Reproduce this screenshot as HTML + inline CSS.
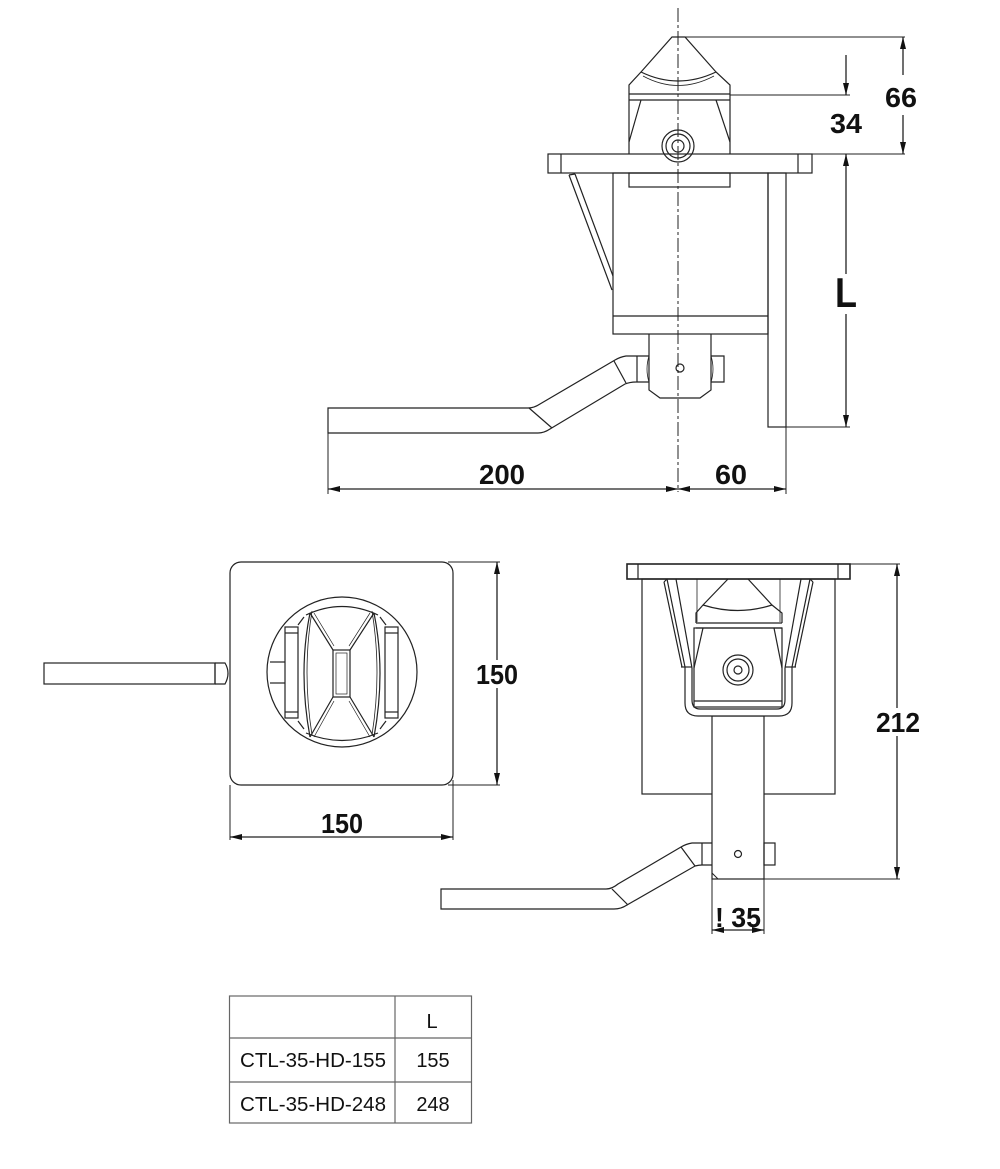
<!DOCTYPE html>
<html><head><meta charset="utf-8"><style>
html,body{margin:0;padding:0;background:#fff;}
svg{display:block;}
text{font-family:"Liberation Sans",sans-serif;fill:#111;}
</style></head><body>
<svg width="1000" height="1169" viewBox="0 0 1000 1169" xmlns="http://www.w3.org/2000/svg">
<defs>
<marker id="a" viewBox="0 0 12 6" refX="12" refY="3" markerWidth="12" markerHeight="6" orient="auto-start-reverse" markerUnits="userSpaceOnUse">
<path d="M0,0 L12,3 L0,6 z" fill="#111"/></marker>
</defs>
<g fill="none" stroke="#222" stroke-width="1.2">
<line x1="678" y1="8" x2="678" y2="492" stroke-dasharray="14,3,3,3" stroke-width="1"/>
<path d="M629,100 L629,85 L641,72 L672,37 L685,37 L716,72 L730,85 L730,100"/>
<path d="M641,72 Q678,90 716,72"/>
<path d="M643,76 Q678,95 714,76" stroke-width="0.8"/>
<line x1="629" y1="94" x2="730" y2="94"/>
<line x1="629" y1="100" x2="730" y2="100"/>
<line x1="629" y1="100" x2="629" y2="154"/>
<line x1="730" y1="100" x2="730" y2="154"/>
<line x1="641" y1="100" x2="629" y2="142"/>
<line x1="716" y1="100" x2="730" y2="142"/>
<circle cx="678" cy="146" r="16"/>
<circle cx="678" cy="146" r="12"/>
<circle cx="678" cy="146" r="6"/>
<rect x="548" y="154" width="264" height="19"/>
<line x1="561" y1="154" x2="561" y2="173"/>
<line x1="798" y1="154" x2="798" y2="173"/>
<rect x="629" y="173" width="101" height="14"/>
<rect x="613" y="173" width="155" height="161"/>
<line x1="613" y1="316" x2="768" y2="316"/>
<path d="M569,175 L612,290 M575,174 L613,276 M569,175 L575,174"/>
<rect x="768" y="173" width="18" height="254"/>
<path d="M649,334 L649,390 L660,398 L700,398 L711,390 L711,334"/>
<path d="M637,356 L649,356 M637,382 L649,382 M637,356 L637,382"/>
<path d="M711,356 L724,356 L724,382 L711,382"/>
<path d="M649,356 Q645,369 649,382 M711,356 Q715,369 711,382" stroke-width="0.8"/>
<circle cx="680" cy="368" r="4"/>
<path d="M637,356 L626,356 Q620,357 615,360 L540,404 Q534,408 528,408 L328,408 L328,433 L538,433 Q544,433 550,429 L625,384 Q630,382 637,382"/>
<line x1="529" y1="408" x2="552" y2="428"/>
<line x1="614" y1="361" x2="626" y2="383"/>
<line x1="685" y1="37" x2="905" y2="37" stroke-width="1"/>
<line x1="730" y1="95" x2="850" y2="95" stroke-width="1"/>
<line x1="812" y1="154" x2="905" y2="154" stroke-width="1"/>
<line x1="786" y1="427" x2="850" y2="427" stroke-width="1"/>
<line x1="903" y1="75" x2="903" y2="37" marker-end="url(#a)" stroke-width="1.3"/>
<line x1="903" y1="115" x2="903" y2="154" marker-end="url(#a)" stroke-width="1.3"/>
<line x1="846" y1="55" x2="846" y2="95" marker-end="url(#a)" stroke-width="1.3"/>
<line x1="846" y1="154" x2="846" y2="427" marker-start="url(#a)" marker-end="url(#a)" stroke-width="1.3"/>
<line x1="328" y1="433" x2="328" y2="494" stroke-width="1"/>
<line x1="786" y1="427" x2="786" y2="494" stroke-width="1"/>
<line x1="328" y1="489" x2="678" y2="489" marker-start="url(#a)" marker-end="url(#a)" stroke-width="1.3"/>
<line x1="678" y1="489" x2="786" y2="489" marker-start="url(#a)" marker-end="url(#a)" stroke-width="1.3"/>

<rect x="230" y="562" width="223" height="223" rx="11"/>
<circle cx="342" cy="672" r="75"/>
<path d="M310,613 Q298,672 310,737 M374,613 Q386,672 374,737"/>
<path d="M312,611 Q302,672 312,735 M372,611 Q382,672 372,735" stroke-width="0.8"/>
<path d="M306,615 Q342,598 378,615 M306,733 Q342,748 378,733"/>
<path d="M304,617 L298,625 M380,617 L386,625 M304,729 L298,721 M380,729 L386,721"/>
<rect x="333" y="650" width="17" height="47"/>
<rect x="336" y="653" width="11" height="41" stroke-width="0.7"/>
<path d="M310,613 L333,650 M374,613 L350,650 M310,737 L333,697 M374,737 L350,697"/>
<path d="M314,613 L334,646 M370,613 L349,646 M314,737 L334,701 M370,737 L349,701" stroke-width="0.7"/>
<rect x="285" y="627" width="13" height="91"/>
<line x1="285" y1="633" x2="298" y2="633"/>
<line x1="285" y1="712" x2="298" y2="712"/>
<line x1="270" y1="662" x2="285" y2="662"/>
<line x1="270" y1="683" x2="285" y2="683"/>
<rect x="385" y="627" width="13" height="91"/>
<line x1="385" y1="633" x2="398" y2="633"/>
<line x1="385" y1="712" x2="398" y2="712"/>
<rect x="44" y="663" width="171" height="21"/>
<path d="M215,663 L225,663 Q231,673 225,684 L215,684"/>
<line x1="215" y1="663" x2="215" y2="684"/>
<line x1="448" y1="562" x2="500" y2="562" stroke-width="1"/>
<line x1="448" y1="785" x2="500" y2="785" stroke-width="1"/>
<line x1="497" y1="562" x2="497" y2="785" marker-start="url(#a)" marker-end="url(#a)" stroke-width="1.3"/>
<line x1="230" y1="785" x2="230" y2="840" stroke-width="1"/>
<line x1="453" y1="780" x2="453" y2="840" stroke-width="1"/>
<line x1="230" y1="837" x2="453" y2="837" marker-start="url(#a)" marker-end="url(#a)" stroke-width="1.3"/>

<rect x="627" y="564" width="223" height="15" stroke-width="1.6"/>
<line x1="638" y1="564" x2="638" y2="579"/>
<line x1="838" y1="564" x2="838" y2="579"/>
<rect x="642" y="579" width="193" height="215"/>
<rect x="712" y="716" width="52" height="163" fill="#fff"/>
<path d="M685,667 L685,703 Q685,716 698,716 L779,716 Q792,716 792,703 L792,667" fill="#fff"/>
<path d="M692,668 L692,700 Q692,709 700,709 L777,709 Q785,709 785,700 L785,668"/>
<path d="M667,579 L685,667 M676,579 L692,668 M810,579 L792,667 M801,579 L785,668"/>
<path d="M664,582 L667,579 M813,582 L810,579"/>
<line x1="664" y1="582" x2="682" y2="667"/>
<line x1="813" y1="582" x2="795" y2="667"/>
<line x1="681" y1="667" x2="692" y2="667"/>
<line x1="785" y1="667" x2="796" y2="667"/>
<line x1="697" y1="579" x2="697" y2="622" stroke-width="0.8"/>
<line x1="780" y1="579" x2="780" y2="622" stroke-width="0.8"/>
<path d="M728,579 L703,605 L696,613 L696,623 M748,579 L772,605 L782,613 L782,623"/>
<path d="M703,605 Q738,616 772,605"/>
<line x1="696" y1="623" x2="782" y2="623"/>
<line x1="696" y1="628" x2="782" y2="628"/>
<rect x="694" y="628" width="88" height="79"/>
<line x1="694" y1="701" x2="782" y2="701"/>
<line x1="703" y1="628" x2="694" y2="668"/>
<line x1="774" y1="628" x2="782" y2="668"/>
<circle cx="738" cy="670" r="15"/>
<circle cx="738" cy="670" r="11"/>
<circle cx="738" cy="670" r="4"/>
<path d="M712,873 L718,879 L764,879 L764,873" stroke-width="1"/>
<path d="M702,843 L712,843 M702,865 L712,865 M702,843 L702,865"/>
<rect x="764" y="843" width="11" height="22"/>
<circle cx="738" cy="854" r="3.5"/>
<path d="M702,843 L692,843 Q686,844 681,847 L618,884 Q612,889 606,889 L441,889 L441,909 L614,909 Q621,909 627,905 L695,866 Q699,865 702,865"/>
<line x1="612" y1="889" x2="628" y2="905"/>
<line x1="681" y1="847" x2="695" y2="866"/>
<line x1="850" y1="564" x2="900" y2="564" stroke-width="1"/>
<line x1="764" y1="879" x2="900" y2="879" stroke-width="1"/>
<line x1="897" y1="564" x2="897" y2="879" marker-start="url(#a)" marker-end="url(#a)" stroke-width="1.3"/>
<line x1="712" y1="879" x2="712" y2="934" stroke-width="1"/>
<line x1="764" y1="879" x2="764" y2="934" stroke-width="1"/>
<line x1="712" y1="930" x2="764" y2="930" marker-start="url(#a)" marker-end="url(#a)" stroke-width="1.3"/>

<g stroke="#666" stroke-width="1.2">
<rect x="229.5" y="996" width="242" height="127"/>
<line x1="395" y1="996" x2="395" y2="1123"/>
<line x1="229.5" y1="1038" x2="471.5" y2="1038"/>
<line x1="229.5" y1="1082" x2="471.5" y2="1082"/>
</g>
</g>

<!-- gaps behind texts -->
<g fill="#fff">
<rect x="834" y="274" width="24" height="40"/>
<rect x="475" y="660" width="44" height="28"/>
<rect x="875" y="708" width="44" height="28"/>
<rect x="880" y="82" width="44" height="30"/>
</g>
<g font-size="28" font-weight="bold" text-anchor="middle">
<text x="901" y="107" textLength="32" lengthAdjust="spacingAndGlyphs">66</text>
<text x="846" y="133" textLength="32" lengthAdjust="spacingAndGlyphs">34</text>
<text x="846" y="307" font-size="42" textLength="22" lengthAdjust="spacingAndGlyphs">L</text>
<text x="502" y="484" textLength="46" lengthAdjust="spacingAndGlyphs">200</text>
<text x="731" y="484" textLength="32" lengthAdjust="spacingAndGlyphs">60</text>
<text x="497" y="684" textLength="42" lengthAdjust="spacingAndGlyphs">150</text>
<text x="342" y="833" textLength="42" lengthAdjust="spacingAndGlyphs">150</text>
<text x="898" y="732" textLength="44" lengthAdjust="spacingAndGlyphs">212</text>
<text x="738" y="927" textLength="46" lengthAdjust="spacingAndGlyphs">! 35</text>
</g>
<g font-size="20" text-anchor="middle" fill="#222">
<text x="432" y="1028">L</text>
<text x="313" y="1067" textLength="146" lengthAdjust="spacingAndGlyphs">CTL-35-HD-155</text>
<text x="433" y="1067">155</text>
<text x="313" y="1111" textLength="146" lengthAdjust="spacingAndGlyphs">CTL-35-HD-248</text>
<text x="433" y="1111">248</text>
</g>
</svg>
</body></html>
